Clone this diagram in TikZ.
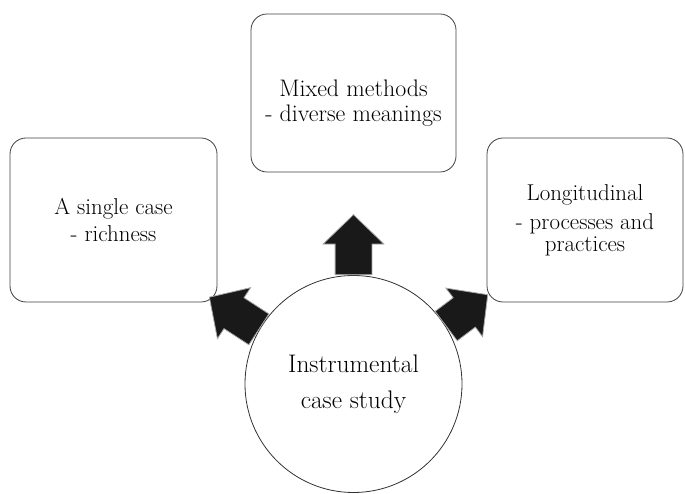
\documentclass[tikz,border=0pt]{standalone}
\usetikzlibrary{positioning,shapes.arrows}
\tikzset{
  casebox/.style={draw=black!75, line width=0.8bp, rounded corners=16bp, fill=white,
    align=center, inner sep=0pt},
  casecircle/.style={circle, draw=black!80, line width=0.8bp, fill=white,
    minimum size=217bp, inner sep=0pt, align=center},
  blockarrow/.style={single arrow, fill=black!90, draw=black!35, line width=0.8bp,
    inner xsep=0pt, inner ysep=18bp, single arrow head extend=12bp,
    single arrow tip angle=92, minimum height=60bp}
}

\begin{document}
\begin{tikzpicture}
      \useasboundingbox (0,0) rectangle (685bp,494bp);
      \node[casecircle, font=\fontsize{25.5}{36}\selectfont] (Study) at (353.5bp,110bp)
        {Instrumental\\case study};

      \node[on grid, above=291bp of Study, casebox, minimum width=205bp, minimum height=158bp,
        font=\fontsize{24}{25}\selectfont] (Mixed) {\rule{0pt}{37bp}Mixed methods\\- diverse meanings};
      \node[on grid, above left=164bp and 240bp of Study, casebox, minimum width=207bp,
        minimum height=164bp, font=\fontsize{23}{28}\selectfont] (Single) {A single case\\- richness};
      \node[on grid, above right=164bp and 231.5bp of Study, casebox, minimum width=196bp,
        minimum height=164bp, font=\fontsize{23}{22}\selectfont] (Long)
        {Longitudinal\\[7bp]- processes and\\practices};

      \node[blockarrow, rotate=90, anchor=tail] (UpArrow) at (Study.90) {};
      \node[blockarrow, rotate=147, anchor=tail, minimum height=59bp] (LeftArrow) at (Study.150) {};
      \node[blockarrow, rotate=37, anchor=tail, minimum height=52bp] (RightArrow) at (Study.32) {};
    \end{tikzpicture}
\end{document}
